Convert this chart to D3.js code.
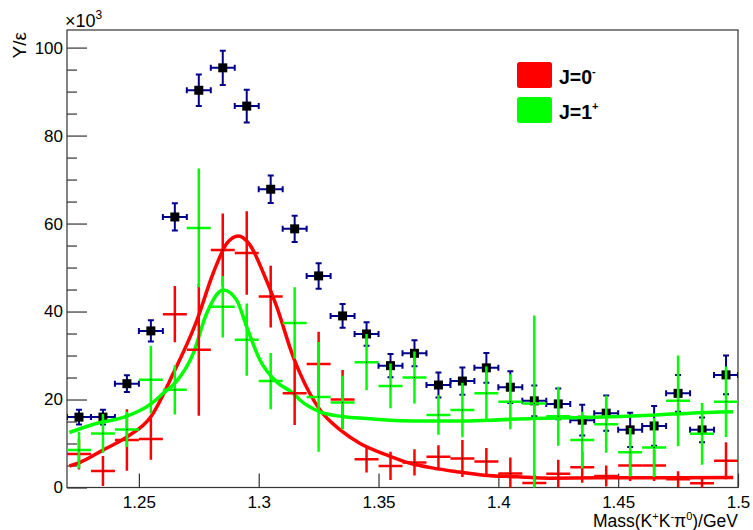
<!DOCTYPE html>
<html><head><meta charset="utf-8">
<script src="https://cdn.jsdelivr.net/npm/d3@7"></script>
<style>body{margin:0;background:#fff}svg{display:block;font-family:"Liberation Sans",Arial,Helvetica,sans-serif}</style>
</head><body><svg id="c" width="753" height="530"></svg>
<script>
// ---- data (values in units of 10^3) ----
const massBins = [1.225,1.235,1.245,1.255,1.265,1.275,1.285,1.295,1.305,1.315,1.325,1.335,1.345,1.355,1.365,1.375,1.385,1.395,1.405,1.415,1.425,1.435,1.445,1.455,1.465,1.475,1.485,1.495];
const binHalfWidth = 0.005;
const totalY   = [16.0,16.0,23.6,35.6,61.5,90.3,95.4,86.7,67.8,58.8,48.1,39.0,34.9,27.7,30.5,23.3,24.2,27.2,22.8,19.7,19.0,15.3,16.9,13.1,14.0,21.4,13.1,25.6];
const totalErr = [1.7,1.7,1.9,2.4,3.1,3.6,3.9,3.7,3.1,3.0,2.9,2.7,2.65,2.65,2.95,2.85,3.1,3.4,3.6,3.5,3.5,3.5,4.0,3.9,4.5,4.2,2.8,4.4];
const j0Y   = [7.6,3.75,10.8,11.0,39.4,31.3,54.0,53.3,43.4,21.4,28.1,20.0,6.4,4.9,5.7,7.0,6.6,5.9,3.2,1.0,3.1,4.6,2.6,5.0,5.0,1.9,0.95,6.1];
const j0Err = [3.5,3.4,7.0,4.7,6.4,15.0,8.3,9.5,7.0,7.2,7.3,6.7,3.0,3.2,3.0,2.6,4.2,3.1,3.6,2.0,3.2,3.5,2.4,3.5,3.5,1.8,1.2,4.2];
const j1Y   = [8.5,12.3,13.2,24.5,22.2,59.0,41.1,33.6,24.2,37.4,20.6,19.3,28.5,23.1,25.0,16.5,17.6,21.4,19.5,19.1,16.2,10.8,14.4,8.0,9.1,19.7,12.2,19.5];
const j1Err = [4.2,4.4,4.0,7.7,5.6,13.5,7.0,8.2,6.4,8.1,12.5,6.1,6.4,5.1,5.9,4.5,6.2,6.1,6.25,20.0,6.7,6.4,6.5,5.5,6.7,10.3,7.0,8.0];
// fit curves
const j0CurveX = [1.221,1.225,1.235,1.245,1.255,1.2644,1.274,1.281,1.2867,1.2915,1.2964,1.302,1.3075,1.3144,1.3172,1.3256,1.334,1.3423,1.3534,1.3632,1.3729,1.3826,1.394,1.4077,1.4216,1.441,1.47,1.498];
const j0CurveY = [4.9,5.6,8.5,11.5,16.1,26.0,37.7,48.7,55.5,57.2,55.1,48.7,41.1,29.7,26.0,17.6,13.1,10.0,7.4,5.5,4.4,3.6,2.8,2.45,2.1,2.2,2.2,2.3];
const j1CurveX = [1.221,1.2326,1.2445,1.255,1.2605,1.2655,1.2727,1.2783,1.2852,1.2908,1.295,1.3005,1.3075,1.3144,1.3172,1.3256,1.3353,1.345,1.359,1.3729,1.384,1.3966,1.4146,1.4355,1.466,1.48,1.498];
const j1CurveY = [12.5,14.6,16.1,19.0,21.6,24.0,30.5,39.6,44.9,42.6,36.5,29.0,24.0,21.4,19.9,17.2,16.1,15.7,15.2,15.1,15.1,15.3,15.7,15.9,16.5,16.9,17.2];
const xTickValues = [1.25,1.3,1.35,1.4,1.45,1.5];
const xTickLabels = ["1.25","1.3","1.35","1.4","1.45","1.5"];
const yTickValues = [0,20,40,60,80,100];
const yTickLabels = ["0","20","40","60","80","100"];
const legendLabels = [["J=0","-"],["J=1","+"]];

// ---- drawing ----
const svg = d3.select("#c");
const L=67, R=738, T=30, B=487.5;
const x = d3.scaleLinear().domain([1.22,1.5]).range([L,R]);
const y = d3.scaleLinear().domain([0,104]).range([B,T]);
const RED="#ff0000", GREEN="#00ff00", NAVY="#00008b";

svg.append("defs").append("clipPath").attr("id","clip")
  .append("rect").attr("x",L).attr("y",T).attr("width",R-L).attr("height",B-T);

// axes
const yAx = svg.append("g").attr("transform",`translate(${L},0)`)
  .call(d3.axisLeft(y).tickValues(yTickValues).tickFormat((d,i)=>yTickLabels[i]).tickSizeInner(-20).tickSizeOuter(0).tickPadding(4));
const yMinor = svg.append("g").attr("transform",`translate(${L},0)`)
  .call(d3.axisLeft(y).tickValues(d3.range(0,104,5).filter(v=>v%20!==0)).tickFormat("").tickSizeInner(-10).tickSizeOuter(0));
const xAx = svg.append("g").attr("transform",`translate(0,${B})`)
  .call(d3.axisBottom(x).tickValues(xTickValues).tickFormat((d,i)=>xTickLabels[i]).tickSizeInner(-14).tickSizeOuter(0).tickPadding(8.5));
const xMinor = svg.append("g").attr("transform",`translate(0,${B})`)
  .call(d3.axisBottom(x).tickValues(d3.range(23,50).map(v=>v/100).filter(v=>Math.abs(v*20-Math.round(v*20))>1e-6)).tickFormat("").tickSizeInner(-7).tickSizeOuter(0));
[yAx,yMinor,xAx,xMinor].forEach(g=>{
  g.select(".domain").remove();
  g.selectAll(".tick line").attr("stroke","#333").attr("stroke-width",1.2);
  g.selectAll("text").attr("font-size",17).attr("fill","#000").attr("font-family","Liberation Sans, Arial, sans-serif");
});

// frame
svg.append("rect").attr("x",L).attr("y",T).attr("width",R-L).attr("height",B-T)
  .attr("fill","none").attr("stroke","#333").attr("stroke-width",1.2);

const plot = svg.append("g").attr("clip-path","url(#clip)");

// total data: navy error bars with caps + black squares
const gTot = plot.append("g").attr("stroke",NAVY).attr("stroke-width",2).attr("fill","none");
massBins.forEach((m,i)=>{
  const cx=x(m), cy=y(totalY[i]), x0=x(m-binHalfWidth), x1=x(m+binHalfWidth);
  const y0=y(totalY[i]-totalErr[i]), y1=y(totalY[i]+totalErr[i]);
  gTot.append("line").attr("x1",x0).attr("x2",x1).attr("y1",cy).attr("y2",cy);
  gTot.append("line").attr("x1",cx).attr("x2",cx).attr("y1",y0).attr("y2",y1);
  [x0,x1].forEach(xx=>gTot.append("line").attr("x1",xx).attr("x2",xx).attr("y1",cy-3).attr("y2",cy+3));
  [y0,y1].forEach(yy=>gTot.append("line").attr("x1",cx-3).attr("x2",cx+3).attr("y1",yy).attr("y2",yy));
});
plot.append("g").selectAll("rect").data(massBins).join("rect")
  .attr("x",d=>x(d)-4.5).attr("y",(d,i)=>y(totalY[i])-4.5).attr("width",9).attr("height",9).attr("fill","#000");

// fit curves
const line = d3.line().curve(d3.curveMonotoneX);
plot.append("path").attr("d",line(j0CurveX.map((v,i)=>[x(v),y(j0CurveY[i])])))
  .attr("fill","none").attr("stroke",RED).attr("stroke-width",3.5);
plot.append("path").attr("d",line(j1CurveX.map((v,i)=>[x(v),y(j1CurveY[i])])))
  .attr("fill","none").attr("stroke",GREEN).attr("stroke-width",3.5);

// crosses
function crosses(vals, errs, color){
  const g = plot.append("g").attr("stroke",color).attr("stroke-width",2.5);
  massBins.forEach((m,i)=>{
    const cy=y(vals[i]);
    g.append("line").attr("x1",x(m-binHalfWidth)).attr("x2",x(m+binHalfWidth)).attr("y1",cy).attr("y2",cy);
    g.append("line").attr("x1",x(m)).attr("x2",x(m)).attr("y1",y(vals[i]-errs[i])).attr("y2",y(vals[i]+errs[i]));
    g.append("rect").attr("x",x(m)-0.5).attr("y",cy-0.5).attr("width",1).attr("height",1).attr("fill","#000").attr("stroke","none");
  });
}
crosses(j0Y, j0Err, RED);
crosses(j1Y, j1Err, GREEN);

// legend
const legColors=[RED,GREEN];
legendLabels.forEach((lab,i)=>{
  const yy = 62 + i*35;
  svg.append("rect").attr("x",517).attr("y",yy).attr("width",35).attr("height",26).attr("rx",2.5).attr("fill",legColors[i]);
  const t = svg.append("text").attr("x",559).attr("y",yy+22).attr("font-size",19.5).attr("font-weight","bold").attr("fill","#000");
  t.append("tspan").text(lab[0]);
  t.append("tspan").attr("dy",-9).attr("font-size",11).text(lab[1]);
});

// axis titles
const xt = svg.append("text").attr("x",R).attr("y",526.5).attr("text-anchor","end").attr("font-size",17.5).attr("fill","#000");
xt.append("tspan").text("Mass(K");
xt.append("tspan").attr("dy",-7).attr("font-size",11).text("+");
xt.append("tspan").attr("dy",7).text("K");
xt.append("tspan").attr("dy",-7).attr("font-size",11).text("-");
xt.append("tspan").attr("dy",7).text("π");
xt.append("tspan").attr("dy",-7).attr("font-size",11).text("0");
xt.append("tspan").attr("dy",7).text(")/GeV");

svg.append("text").attr("transform","translate(26,32) rotate(-90)").attr("text-anchor","end")
  .attr("font-size",19).attr("fill","#000").text("Y/ε");

const ex = svg.append("text").attr("x",65).attr("y",27).attr("font-size",18).attr("fill","#000");
ex.append("tspan").text("×10");
ex.append("tspan").attr("dy",-8).attr("font-size",12).text("3");
</script></body></html>
